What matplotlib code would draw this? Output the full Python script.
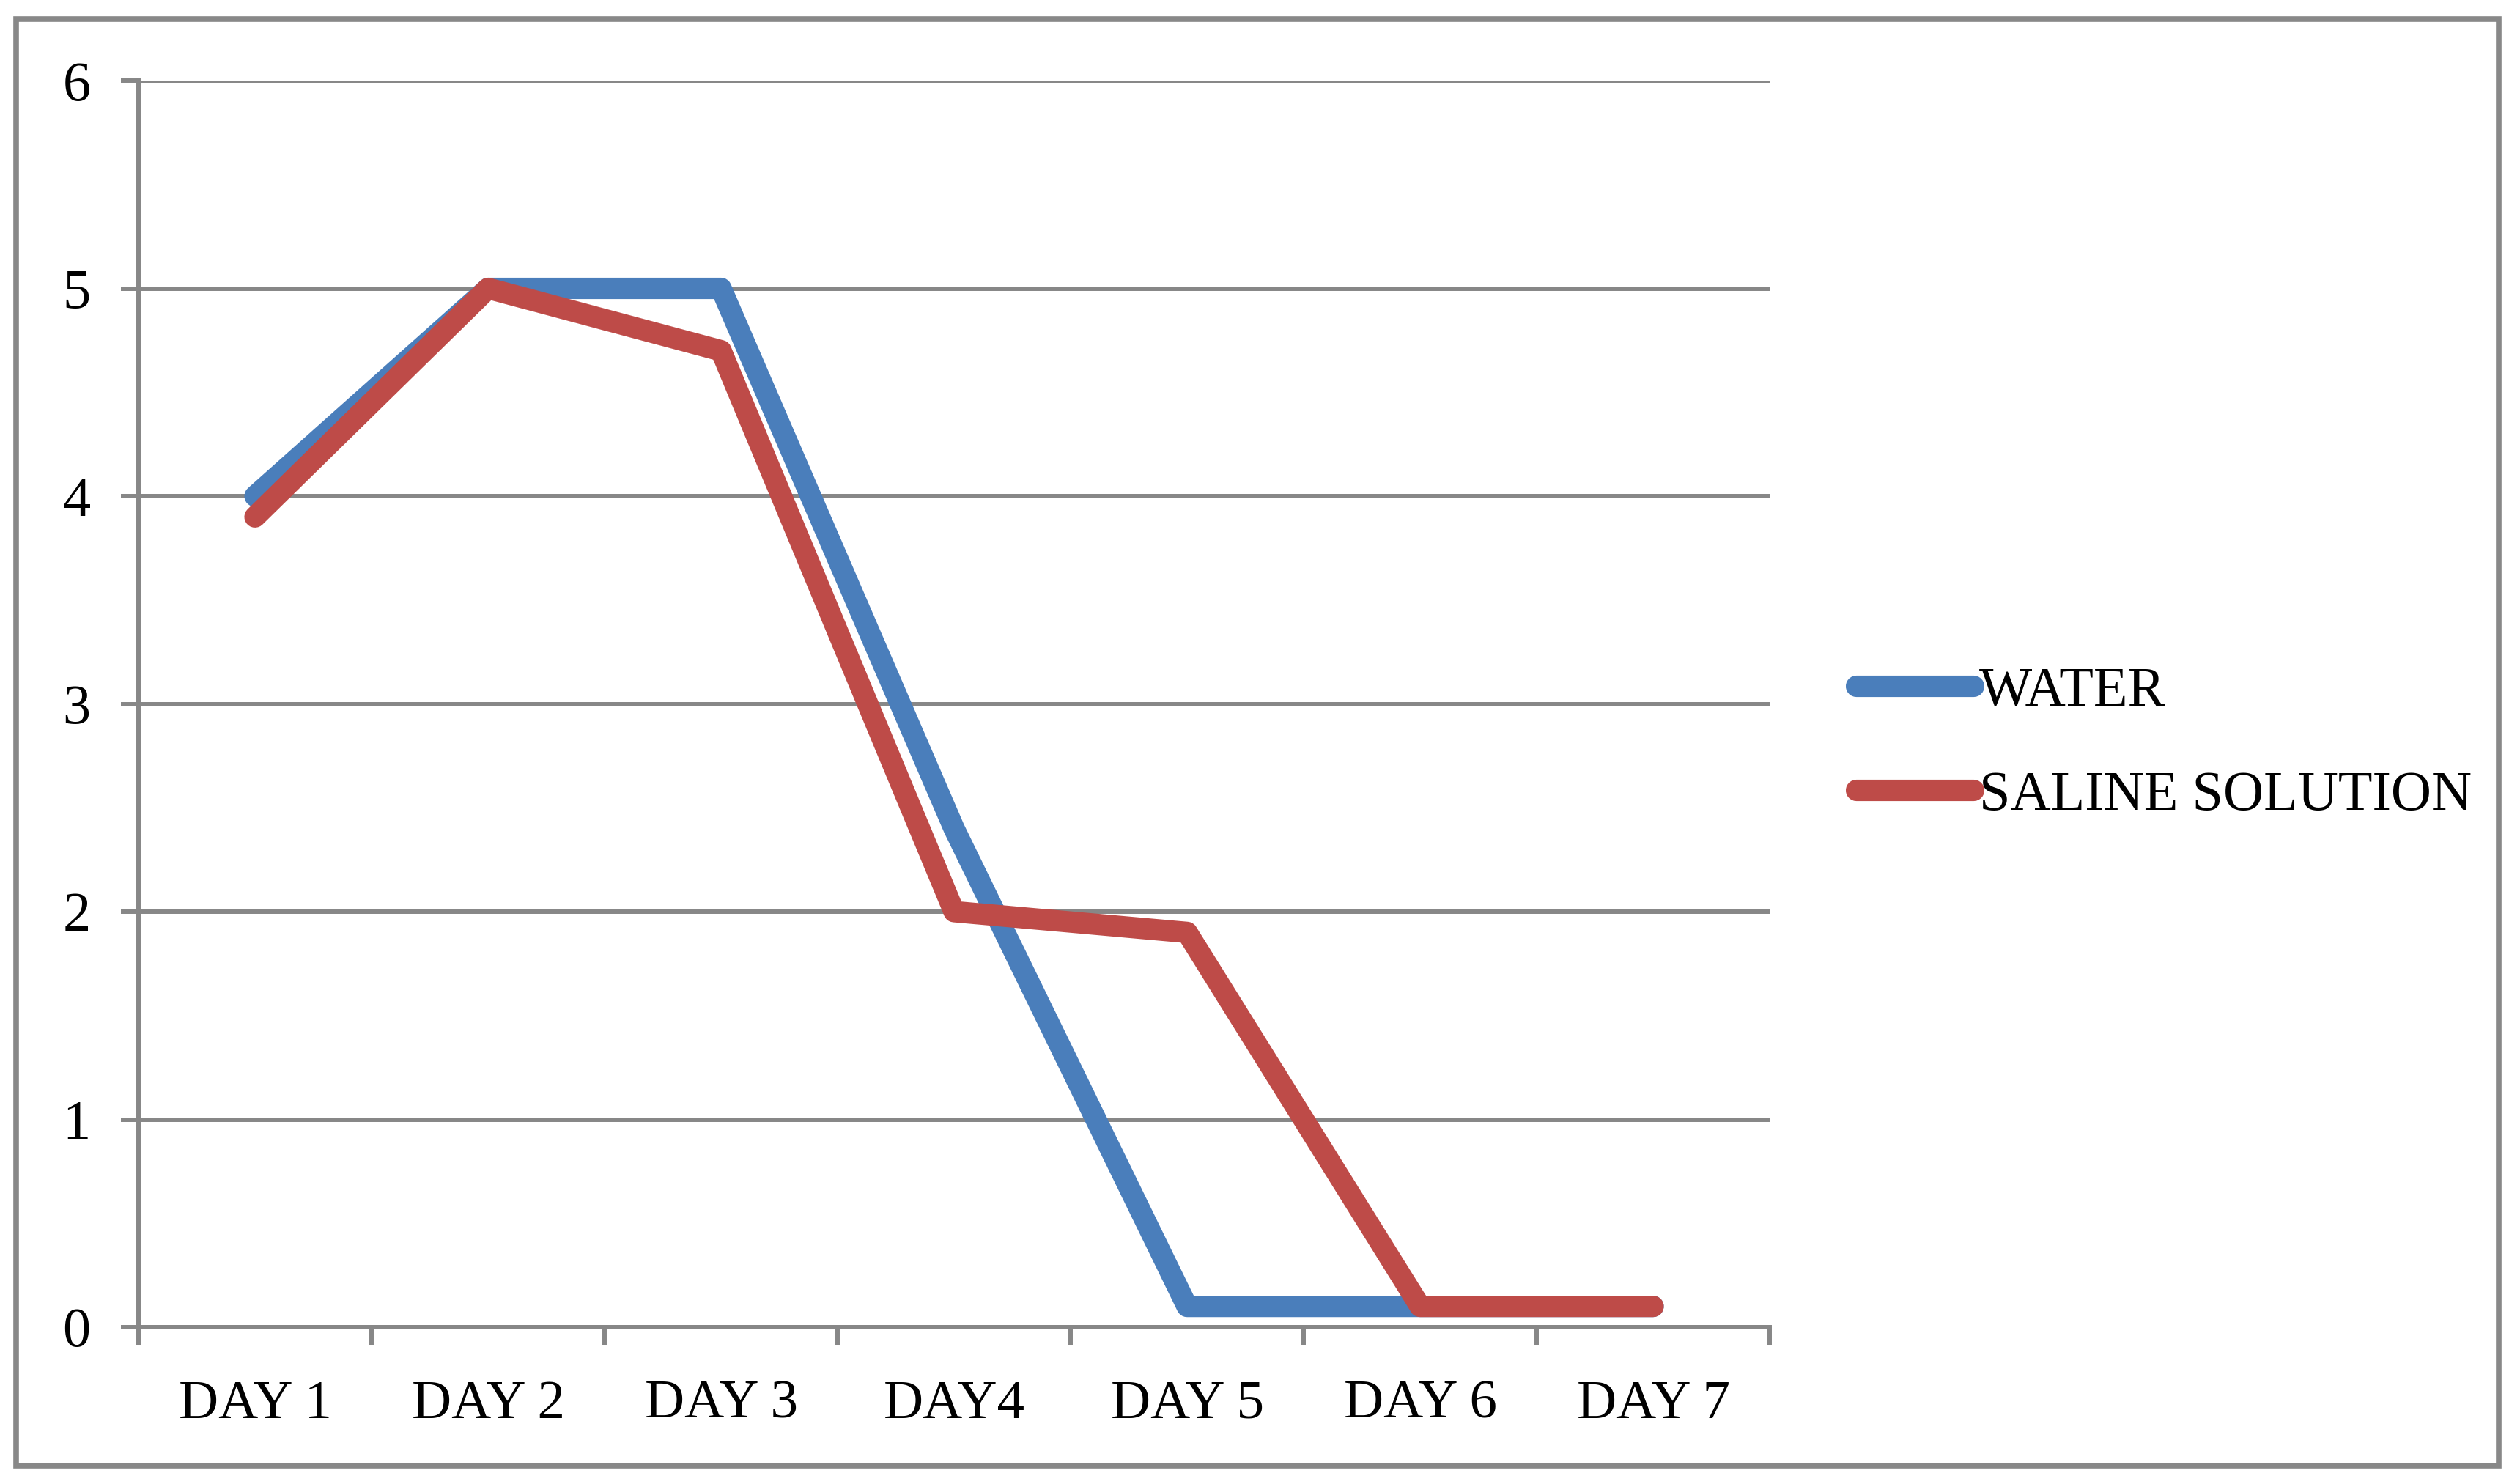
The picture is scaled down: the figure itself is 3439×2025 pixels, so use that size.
import matplotlib
matplotlib.use("Agg")
import matplotlib.pyplot as plt
from matplotlib.patches import Rectangle

categories = ["DAY 1", "DAY 2", "DAY 3", "DAY4", "DAY 5", "DAY 6", "DAY 7"]
water = [4.0, 5.0, 5.0, 2.4, 0.1, 0.1, 0.1]
saline = [3.9, 5.0, 4.7, 2.0, 1.9, 0.1, 0.1]
series_names = ["WATER", "SALINE SOLUTION"]
y_ticks = [0, 1, 2, 3, 4, 5, 6]

W, H = 3439, 2025
DPI = 100
plt.rcParams['font.family'] = ['Liberation Serif', 'DejaVu Serif']
fig = plt.figure(figsize=(W / DPI, H / DPI), dpi=DPI)
fig.patch.set_facecolor("white")

left, right = 189 / W, 2415 / W
bottom, top = 1 - 1811 / H, 1 - 110 / H
ax = fig.add_axes([left, bottom, right - left, top - bottom])

grid_c = "#878787"
LW = 21
x = list(range(len(categories)))
ax.plot(x, water, color="#4A7EBB", lw=LW, solid_capstyle="round",
        solid_joinstyle="round", label=series_names[0], zorder=3)
ax.plot(x, saline, color="#BE4B48", lw=LW, solid_capstyle="round",
        solid_joinstyle="round", label=series_names[1], zorder=4)

ax.set_xlim(-0.5, len(categories) - 0.5)
ax.set_ylim(0, 6)
ax.set_yticks(y_ticks)
ax.set_yticklabels([str(v) for v in y_ticks])
ax.set_xticks([i - 0.5 for i in range(len(categories) + 1)])
ax.set_xticklabels([])
ax.set_xticks(x, minor=True)
ax.set_xticklabels(categories, minor=True)
ax.tick_params(axis="x", which="minor", length=0, pad=52, labelsize=54)
ax.tick_params(axis="x", which="major", length=17, width=4.3, color=grid_c, direction="out")
ax.tick_params(axis="y", length=17, width=4.3, color=grid_c, direction="out", pad=30, labelsize=55)

ax.grid(axis="y", color=grid_c, lw=4.3, zorder=1)
ax.set_axisbelow(True)
for s in ["top", "right"]:
    ax.spines[s].set_visible(False)
for s in ["left", "bottom"]:
    ax.spines[s].set_color(grid_c)
    ax.spines[s].set_linewidth(4.3)

leg = fig.legend(loc="center left", bbox_to_anchor=(2533 / W, 1 - 1015 / H),
                 frameon=False, fontsize=55, handlelength=2.1, handletextpad=0.1,
                 labelspacing=0.95, borderpad=0, borderaxespad=0)
for line in leg.get_lines():
    line.set_linewidth(LW)
    line.set_solid_capstyle("round")

fig.patches.append(Rectangle((22 / W, 1 - 2000 / H), (3410 - 22) / W, (2000 - 26) / H,
                             transform=fig.transFigure, fill=False,
                             edgecolor="#888888", lw=5.5))

fig.savefig("out.png", dpi=DPI, facecolor="white")
